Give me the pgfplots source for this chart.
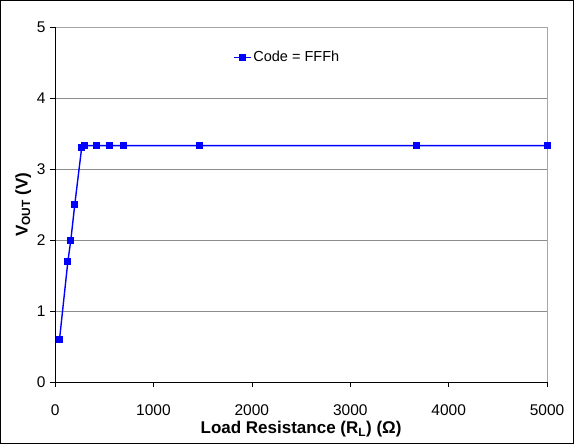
\documentclass[border=0pt]{standalone}
\usepackage{pgfplots}
\pgfplotsset{compat=1.18}
\usepackage{fontspec}
\setmainfont{Liberation Sans}
\begin{document}
\begin{tikzpicture}
\begin{axis}[
  scale only axis, width=492pt, height=355pt,
  clip=false,
  xmin=0, xmax=5000, ymin=0, ymax=5,
  xtick={0,1000,...,5000}, ytick={0,1,...,5},
  /pgf/number format/assume math mode=true,
  scaled x ticks=false,
  xticklabel style={/pgf/number format/1000 sep={}, yshift=-14pt},
  ticklabel style={font=\fontsize{15.5}{18}\selectfont},
  yticklabel style={xshift=-1pt},
  axis line style={gray!70},
  axis x line*=bottom, axis y line*=left,
  tick align=outside, tick style={black, line width=0.7pt},
  major tick length=5pt,
  ymajorgrids, grid style={gray!90, line width=0.8pt},
  xlabel={\fontsize{17}{20}\selectfont\bfseries Load Resistance (R\textsubscript{L}) (Ω)},
  ylabel={\fontsize{17}{20}\selectfont\bfseries V\textsubscript{OUT} (V)},
  xlabel style={yshift=1pt},
  ylabel style={yshift=-1pt},
  legend style={draw=none, fill=none, at={(0.355,0.915)}, anchor=west, font=\fontsize{14.5}{17}\selectfont},
  legend cell align=left,
]
\draw[black, line width=1.2pt] (rel axis cs:-0.11077,-0.17324) rectangle (rel axis cs:1.0536,1.0746);
\draw[gray!70] (axis cs:0,5) -- (axis cs:5000,5) -- (axis cs:5000,0);
\draw[black, line width=0.9pt] (axis cs:0,0) -- (axis cs:5000,0);
\draw[black, line width=0.9pt] (axis cs:0,0) -- (axis cs:0,5);
\addplot[blue, line width=1.4pt, mark=square*, mark size=2.8pt, mark options={fill=blue}] coordinates {
(45,0.60) (130,1.70) (160,2.00) (200,2.50) (270,3.30) (300,3.33)
(420,3.33) (550,3.33) (700,3.33) (1470,3.33) (3670,3.33) (5000,3.33)
};
\addlegendentry{Code = FFFh}
\end{axis}
\end{tikzpicture}
\end{document}
